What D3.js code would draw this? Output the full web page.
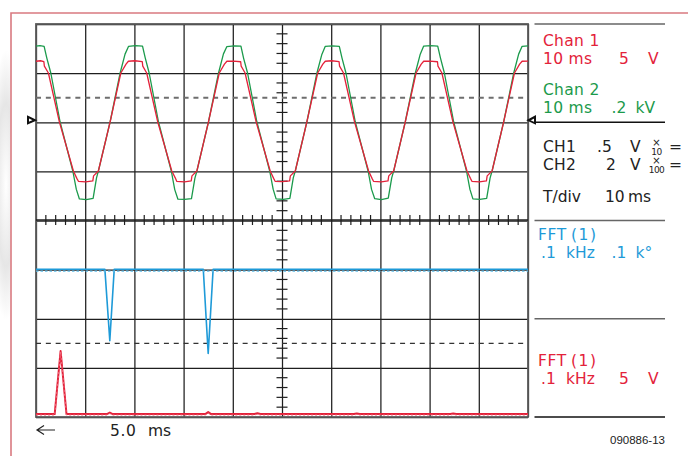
<!DOCTYPE html>
<html><head><meta charset="utf-8">
<script src="https://cdn.jsdelivr.net/npm/d3@7"></script>
<style>html,body{margin:0;padding:0;background:#fff;} svg{display:block;}</style>
</head><body>
<svg id="c" width="688" height="456"></svg>
<script>
// ---------------- DATA ----------------
// Channel 1 (red), time in ms, value in V (5 V/div)
const chan1Trace = [
 [0,6.2],[0.9,6.25],[1.6,6.15],
 [1.7,5.7],[2.52,5.0],[4.76,0],[7.6,-5.0],[8.3,-5.75],[8.62,-6.05],[10.1,-6.1],[11.55,-6.0],[11.7,-5.5],[12.68,-5.0],[15.06,0],[17.24,5.0],[18.3,5.9],[18.78,6.2],[20.1,6.25],[21.6,6.15],
 [21.7,5.7],[22.5,5.0],[24.75,0],[27.6,-5.0],[28.3,-5.7],[28.6,-6.05],[30.2,-6.12],[31.55,-6.0],[31.7,-5.5],[32.7,-5.0],[35.05,0],[37.25,5.0],[38.3,5.9],[38.8,6.2],[40.2,6.22],[41.6,6.15],
 [41.7,5.7],[42.5,5.0],[44.75,0],[47.6,-5.0],[48.3,-5.75],[48.6,-6.05],[50.1,-6.08],[51.55,-6.0],[51.7,-5.5],[52.7,-5.0],[55.05,0],[57.25,5.0],[58.3,5.9],[58.8,6.2],[60.1,6.25],[61.6,6.15],
 [61.7,5.7],[62.5,5.0],[64.75,0],[67.6,-5.0],[68.3,-5.75],[68.6,-6.05],[70.2,-6.1],[71.55,-6.0],[71.7,-5.5],[72.7,-5.0],[75.05,0],[77.25,5.0],[78.3,5.9],[78.8,6.2],[80.1,6.22],[81.6,6.15],
 [81.7,5.7],[82.5,5.0],[84.75,0],[87.6,-5.0],[88.3,-5.75],[88.6,-6.05],[90.1,-6.1],[91.55,-6.0],[91.7,-5.5],[92.7,-5.0],[95.05,0],[97.25,5.0],[98.3,5.9],[98.8,6.2],[100,6.22]
];
// Channel 2 (green), time in ms, value in V (0.2 kV/div)
const chan2Trace = [
 [0,310],[0.8,312],[1.65,309],
 [2.2,261],[3.01,200],[4.9,0],[7.48,-200],[8.2,-275],[8.82,-314],[10.2,-317],[11.61,-312],[12.3,-228],[12.68,-200],[15.06,0],[17.1,200],[18.1,277],[18.82,309],[20.2,312],[21.65,310],
 [22.2,262],[23.0,200],[24.9,0],[27.5,-200],[28.2,-276],[28.85,-315],[30.2,-316],[31.6,-313],[32.3,-229],[32.7,-200],[35.05,0],[37.1,200],[38.1,278],[38.8,308],[40.3,311],[41.65,310],
 [42.2,260],[43.0,200],[44.9,0],[47.5,-200],[48.2,-274],[48.8,-314],[50.3,-316],[51.6,-312],[52.3,-227],[52.7,-200],[55.05,0],[57.1,200],[58.1,276],[58.8,309],[60.2,311],[61.65,309],
 [62.2,261],[63.0,200],[64.9,0],[67.5,-200],[68.2,-275],[68.85,-313],[70.2,-317],[71.6,-311],[72.3,-228],[72.7,-200],[75.05,0],[77.1,200],[78.1,277],[78.8,310],[80.2,312],[81.65,310],
 [82.2,262],[83.0,200],[84.9,0],[87.5,-200],[88.2,-275],[88.8,-314],[90.2,-316],[91.6,-312],[92.3,-228],[92.7,-200],[95.05,0],[97.1,200],[98.1,277],[98.8,309],[100,311]
];
// FFT magnitude (red), frequency Hz, value V (5 V/div)
const fftMagnitude = [
 [0,0.3],[38,0.3],[50,6.7],[62,0.3],[144,0.3],[150,0.45],[156,0.3],[344,0.3],[350,0.5],[356,0.3],
 [444,0.3],[450,0.38],[456,0.3],[646,0.3],[652,0.36],[658,0.3],[842,0.3],[848,0.36],[854,0.3],[1000,0.3]
];
// FFT phase (blue), frequency Hz, value degrees (100 deg/div)
const fftPhase = [
 [0,100],[140,100],[150,-45],[159,100],[340,100],[350,-71],[360,100],[1000,100]
];
// reference (dashed) levels, in screen divisions from top
const refLevelsDiv = [1.5, 6.5];
// ground markers, in screen divisions from top
const groundMarkerDiv = [1.96];

// Text
const channelNames = ["Chan 1", "Chan 2"];
const timebase = "10 ms";
const ch1Sens = ["5", "V"];
const ch2Sens = [".2", "kV"];
const probeRows = [["CH1", ".5", "V", "10"], ["CH2", "2", "V", "100"]];
const tdivLabel = ["T/div", "10", "ms"];
const fftName = ["FFT", "(1)"];
const fftPhaseSens = [".1", "kHz", ".1", "k°"];
const fftMagSens = [".1", "kHz", "5", "V"];
const cursorLabel = ["5.0", "ms"];
const figureId = "090886-13";

// ---------------- DRAW ----------------
const svg = d3.select("#c");
const L = 36, R = 528, T = 24, B = 417, MID = 220;
const RED = "#e3223a", GREEN = "#1b9a4b", BLUE = "#1e9ad8";
const FONT = "DejaVu Sans, Liberation Sans, sans-serif";

const defs = svg.append("defs");
const rg = defs.append("radialGradient").attr("id", "blob").attr("cx", "0.5").attr("cy", "0.5").attr("r", "0.5");
rg.append("stop").attr("offset", "0").attr("stop-color", "#ffffff");
rg.append("stop").attr("offset", "0.6").attr("stop-color", "#e6e6e6");
rg.append("stop").attr("offset", "1").attr("stop-color", "#ffffff");
defs.append("clipPath").attr("id", "leftclip").append("rect").attr("x", 0).attr("y", 0).attr("width", 10.5).attr("height", 456);
defs.append("clipPath").attr("id", "plotclip").append("rect").attr("x", L).attr("y", T).attr("width", R - L).attr("height", B - T);

svg.append("ellipse").attr("clip-path", "url(#leftclip)")
  .attr("cx", 6).attr("cy", 185).attr("rx", 16).attr("ry", 135).attr("fill", "url(#blob)");

// outer frame
svg.append("path").attr("d", "M11,456V13H688").attr("fill", "none").attr("stroke", "#d97a80").attr("stroke-width", 1.6);

// scales
const gx = d3.scaleLinear().domain([0, 10]).range([L, R]);
const gy = d3.scaleLinear().domain([0, 8]).range([T, B]);
const xT = d3.scaleLinear().domain([0, 100]).range([L, R]);
const y1 = d3.scaleLinear().domain([-10, 10]).range([MID, T]);
const y2 = d3.scaleLinear().domain([-400, 400]).range([MID, T]);
const xF = d3.scaleLinear().domain([0, 1000]).range([L, R]);
const yMag = d3.scaleLinear().domain([0, 20]).range([B, MID]);
const yPh = d3.scaleLinear().domain([-200, 200]).range([B, MID]);

// grid via axes
svg.append("g").attr("transform", `translate(0,${B})`)
  .call(d3.axisBottom(gx).ticks(10).tickSize(-(B - T)).tickFormat(""))
  .call(g => g.select(".domain").remove())
  .selectAll("line").attr("stroke", "#1e1e1e").attr("stroke-width", 1.25);
svg.append("g").attr("transform", `translate(${L},0)`)
  .call(d3.axisLeft(gy).ticks(8).tickSize(-(R - L)).tickFormat(""))
  .call(g => g.select(".domain").remove())
  .selectAll("line").attr("stroke", "#1e1e1e").attr("stroke-width", 1.25);
// plot border
svg.append("rect").attr("x", L).attr("y", T).attr("width", R - L).attr("height", B - T)
  .attr("fill", "none").attr("stroke", "#5a5a5a").attr("stroke-width", 1.8);

// minor ticks on center lines
const sx = d3.scaleLinear().domain([0, 50]).range([L, R]);
const sy = d3.scaleLinear().domain([0, 40]).range([T, B]);
svg.append("g").selectAll("line").data(d3.range(1, 50).filter(i => i % 5)).join("line")
  .attr("x1", d => sx(d)).attr("x2", d => sx(d)).attr("y1", MID - 5).attr("y2", MID + 5)
  .attr("stroke", "#1e1e1e").attr("stroke-width", 1.2);
svg.append("g").selectAll("line").data(d3.range(1, 40).filter(i => i % 5)).join("line")
  .attr("y1", d => sy(d)).attr("y2", d => sy(d)).attr("x1", gx(5) - 5.5).attr("x2", gx(5) + 5.5)
  .attr("stroke", "#1e1e1e").attr("stroke-width", 1.2);
svg.append("line").attr("x1", L).attr("x2", R).attr("y1", MID).attr("y2", MID).attr("stroke", "#1e1e1e").attr("stroke-width", 1.6);

// dashed reference levels
svg.append("line").attr("x1", L).attr("x2", R).attr("y1", gy(refLevelsDiv[0])).attr("y2", gy(refLevelsDiv[0]))
  .attr("stroke", "#6e6e6e").attr("stroke-width", 2).attr("stroke-dasharray", "5,4.84");
svg.append("line").attr("x1", L).attr("x2", R).attr("y1", gy(refLevelsDiv[1])).attr("y2", gy(refLevelsDiv[1]))
  .attr("stroke", "#333").attr("stroke-width", 1.3).attr("stroke-dasharray", "5,4.84");

// ground markers
groundMarkerDiv.forEach(dv => {
  const yy = gy(dv);
  svg.append("path").attr("d", `M28,${yy - 3.5}L28,${yy + 3}L35,${yy}Z`).attr("fill", "#fff").attr("stroke", "#111").attr("stroke-width", 2);
  svg.append("path").attr("d", `M535,${yy - 3.5}L535,${yy + 3}L528.5,${yy}Z`).attr("fill", "#fff").attr("stroke", "#111").attr("stroke-width", 2);
});

const plot = svg.append("g").attr("clip-path", "url(#plotclip)");
// FFT phase (blue)
const linePh = d3.line().x(d => xF(d[0])).y(d => yPh(d[1]));
plot.append("path").datum(fftPhase).attr("d", linePh).attr("fill", "none")
  .attr("stroke", BLUE).attr("stroke-width", 1.6).attr("stroke-linejoin", "round");
plot.append("path").datum(fftPhase.filter(d => d[1] === 100)).attr("d", d3.line().x(d => xF(d[0])).y(d => yPh(d[1]) + 1.8))
  .attr("fill", "none").attr("stroke", "#5cbce9").attr("stroke-width", 1.3).attr("stroke-dasharray", "2.5,2");
// FFT magnitude (red)
const lineMag = d3.line().x(d => xF(d[0])).y(d => yMag(d[1]));
plot.append("path").datum(fftMagnitude).attr("d", lineMag).attr("fill", "none")
  .attr("stroke", RED).attr("stroke-width", 2).attr("stroke-linejoin", "round");
plot.append("path").datum(fftMagnitude).attr("d", d3.line().x(d => xF(d[0])).y(d => yMag(d[1]) + 1))
  .attr("fill", "none").attr("stroke", "#f06a7c").attr("stroke-width", 1).attr("stroke-dasharray", "2,2");

// time traces
plot.append("path").datum(chan2Trace).attr("d", d3.line().x(d => xT(d[0])).y(d => y2(d[1])))
  .attr("fill", "none").attr("stroke", GREEN).attr("stroke-width", 1.3).attr("stroke-linejoin", "round");
plot.append("path").datum(chan1Trace).attr("d", d3.line().x(d => xT(d[0])).y(d => y1(d[1])))
  .attr("fill", "none").attr("stroke", RED).attr("stroke-width", 1.3).attr("stroke-linejoin", "round");

// right panel lines
[0, 2, 4, 6, 8].forEach(dv => {
  svg.append("line").attr("x1", 534.5).attr("x2", 665).attr("y1", gy(dv)).attr("y2", gy(dv))
    .attr("stroke", (dv === 2 || dv === 8) ? "#111" : "#666").attr("stroke-width", 1.6);
});

function txt(x, y, s, color, size, opts) {
  const t = svg.append("text").attr("x", x).attr("y", y).text(s)
    .attr("fill", color).attr("font-family", (opts && opts.family) || FONT).attr("font-size", size);
  if (opts && opts.anchor) t.attr("text-anchor", opts.anchor);
  if (opts && opts.ls) t.attr("letter-spacing", opts.ls);
  return t;
}
const FS = 15.5;
// Chan 1
txt(543, 45.5, channelNames[0], RED, FS, {ls: 0.3});
txt(543, 64, timebase, RED, FS, {ls: 0.3});
txt(619, 64, ch1Sens[0], RED, FS);
txt(648, 64, ch1Sens[1], RED, FS);
// Chan 2
txt(543, 95, channelNames[1], GREEN, FS, {ls: 0.3});
txt(543, 112.5, timebase, GREEN, FS, {ls: 0.3});
txt(611.5, 112.5, ch2Sens[0], GREEN, FS);
txt(635.5, 112.5, ch2Sens[1], GREEN, FS);
// probe rows
probeRows.forEach((r, i) => {
  const by = i === 0 ? 151.5 : 170;
  txt(543, by, r[0], "#222", FS, {ls: 0.3});
  if (r[1].startsWith(".")) { txt(597, by, r[1], "#222", FS); } else { txt(606, by, r[1], "#222", FS); }
  txt(630, by, r[2], "#222", FS);
  txt(656.5, by - 6, "×", "#222", 10, {anchor: "middle"});
  txt(656.5, by + 3, r[3], "#222", 9, {anchor: "middle", ls: -0.5});
  txt(669, by, "=", "#222", FS);
});
txt(543, 201.5, tdivLabel[0], "#222", FS);
txt(605, 201.5, tdivLabel[1], "#222", FS);
txt(628, 201.5, tdivLabel[2], "#222", FS);
// FFT phase labels
txt(538, 240, fftName[0], BLUE, FS, {ls: 0.6});
txt(571, 240, fftName[1], BLUE, FS, {ls: 1.5});
txt(541, 258.3, fftPhaseSens[0], BLUE, FS);
txt(566, 258.3, fftPhaseSens[1], BLUE, FS);
txt(611.5, 258.3, fftPhaseSens[2], BLUE, FS);
txt(635.5, 258.3, fftPhaseSens[3], BLUE, FS);
// FFT magnitude labels
txt(538, 365.5, fftName[0], RED, FS, {ls: 0.6});
txt(571, 365.5, fftName[1], RED, FS, {ls: 1.5});
txt(541, 384, fftMagSens[0], RED, FS);
txt(566, 384, fftMagSens[1], RED, FS);
txt(619, 384, fftMagSens[2], RED, FS);
txt(648, 384, fftMagSens[3], RED, FS);

// cursor label
svg.append("path").attr("d", "M55,430H37M44,425.5L37,430L44,434.5").attr("fill", "none").attr("stroke", "#222").attr("stroke-width", 1.2);
txt(110, 436, cursorLabel[0], "#222", FS, {ls: 0.6});
txt(148, 436, cursorLabel[1], "#222", FS);
// figure id
txt(665, 444, figureId, "#222", 11.5, {anchor: "end", family: "Liberation Sans, Arial, sans-serif"});
</script>
</body></html>
